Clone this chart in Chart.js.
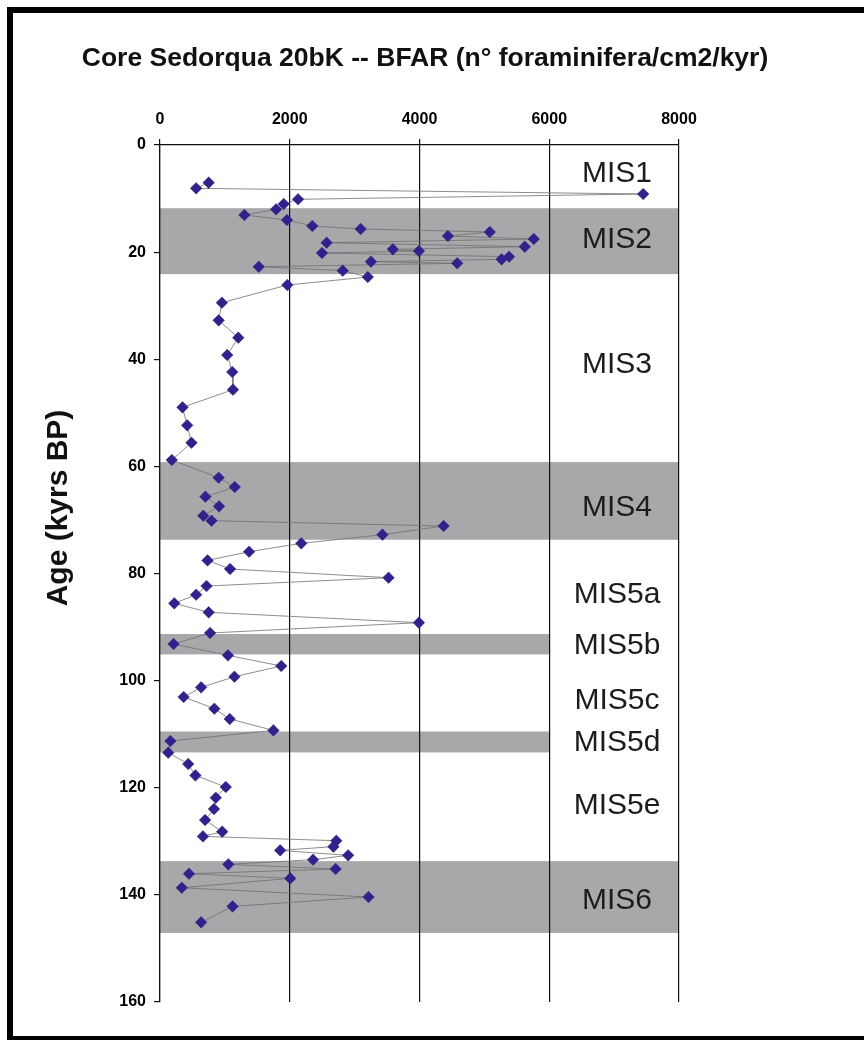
<!DOCTYPE html>
<html>
<head>
<meta charset="utf-8">
<script src="https://cdn.jsdelivr.net/npm/chart.js@4/dist/chart.umd.min.js"></script>
<style>
  html, body { margin: 0; padding: 0; background: #fff; }
  #wrap { width: 864px; height: 1040px; position: relative; }
</style>
</head>
<body>
<div id="wrap"><canvas id="c" width="864" height="1040"></canvas></div>
<script>
// ---- Data ----
const chartTitle = "Core Sedorqua 20bK -- BFAR (n\u00B0 foraminifera/cm2/kyr)";
const yAxisTitle = "Age (kyrs BP)";
const ages = [
  7.03, 8.09, 9.15, 10.14, 11.02, 12.01, 13.07, 14.0, 15.12, 15.68,
  16.24, 16.99, 17.55, 18.24, 18.98, 19.48, 19.79, 20.16, 20.85, 21.35,
  21.78, 22.09, 22.72, 23.46, 24.65, 26.14, 29.44, 32.74, 35.97, 39.21,
  42.38, 45.68, 48.98, 52.34, 55.58, 58.81, 62.11, 63.85, 65.66, 67.46,
  69.21, 70.14, 71.14, 72.75, 74.37, 75.93, 77.55, 79.16, 80.78, 82.34,
  83.96, 85.57, 87.25, 89.18, 91.11, 93.17, 95.28, 97.27, 99.27, 101.26,
  103.06, 105.24, 107.17, 109.29, 111.28, 113.45, 115.57, 117.69, 119.87, 121.86,
  123.97, 126.03, 128.2, 129.08, 129.89, 131.0, 131.69, 132.62, 133.43, 134.3,
  135.18, 136.05, 136.92, 138.66, 140.4, 142.15, 145.13
];
const bfar = [
  750, 557, 7448, 2128, 1907, 1790, 1301, 1957, 2348, 3093,
  5083, 4438, 5761, 2569, 5623, 3589, 3991, 2497, 5380, 5265,
  3252, 4581, 1522, 2817, 3203, 1963, 954, 904, 1207, 1036,
  1114, 1125, 347, 419, 485, 182, 904, 1152, 700, 910,
  667, 794, 4372, 3429, 2178, 1373, 733, 1080, 3523, 717,
  557, 220, 750, 3991, 772, 209, 1047, 1869, 1147, 634,
  364, 838, 1075, 1748, 160, 127, 435, 546, 1014, 860,
  832, 695, 959, 662, 2718, 2674, 1852, 2900, 2359, 1053,
  2707, 447, 2007, 336, 3214, 1119, 634
];
// Marine isotope stage shaded bands (age limits, and BFAR extent of the band)
const bandTop    = [11.8, 59.2, 91.3, 109.5, 133.7];
const bandBottom = [24.1, 73.7, 95.1, 113.4, 147.1];
const bandXMax   = [8000, 8000, 6000, 6000, 8000];
// MIS labels (text and age of label centre)
const misNames = ["MIS1", "MIS2", "MIS3", "MIS4", "MIS5a", "MIS5b", "MIS5c", "MIS5d", "MIS5e", "MIS6"];
const misAges  = [4.85, 17.3, 40.6, 67.3, 83.5, 93.0, 103.2, 111.1, 122.8, 140.6];
const misX = 7045;
// Axis ticks
const xTicks = [0, 2000, 4000, 6000, 8000];
const yTicks = [0, 20, 40, 60, 80, 100, 120, 140, 160];

// ---- Chart ----
const FONT = "'Liberation Sans', Arial, Helvetica, sans-serif";
const points = ages.map((a, i) => ({ x: bfar[i], y: a }));

const decorPlugin = {
  id: 'decor',
  beforeDraw(chart) {
    const ctx = chart.ctx, xs = chart.scales.x, ys = chart.scales.y;
    ctx.save();
    ctx.fillStyle = '#ffffff';
    ctx.fillRect(0, 0, chart.width, chart.height);
    ctx.fillStyle = '#a6a8aa';
    for (let i = 0; i < bandTop.length; i++) {
      const x0 = xs.getPixelForValue(0), x1 = xs.getPixelForValue(bandXMax[i]);
      const y0 = ys.getPixelForValue(bandTop[i]), y1 = ys.getPixelForValue(bandBottom[i]);
      ctx.fillRect(x0, y0, x1 - x0, y1 - y0);
    }
    ctx.restore();
  },
  afterDraw(chart) {
    const ctx = chart.ctx, xs = chart.scales.x, ys = chart.scales.y;
    ctx.save();
    // MIS labels
    ctx.fillStyle = '#1c1c1c';
    ctx.font = "30px " + FONT;
    ctx.textAlign = 'center';
    ctx.textBaseline = 'alphabetic';
    for (let i = 0; i < misNames.length; i++) {
      ctx.fillText(misNames[i], xs.getPixelForValue(misX), ys.getPixelForValue(misAges[i]) + 10.8);
    }
    // Title
    ctx.fillStyle = '#111';
    ctx.font = "bold 26.5px " + FONT;
    ctx.fillText(chartTitle, 425, 66);
    // Y-axis title
    ctx.save();
    ctx.translate(66.5, 508);
    ctx.rotate(-Math.PI / 2);
    ctx.font = "bold 30px " + FONT;
    ctx.fillText(yAxisTitle, 0, 0);
    ctx.restore();
    // Frame
    ctx.fillStyle = '#000';
    ctx.fillRect(7, 7, 6, 1033);
    ctx.fillRect(7, 7, 857, 6);
    ctx.fillRect(7, 1036, 857, 4);
    ctx.restore();
  }
};

new Chart(document.getElementById('c'), {
  type: 'scatter',
  data: {
    datasets: [{
      data: points,
      showLine: true,
      borderColor: '#707070',
      borderWidth: 0.8,
      pointStyle: 'rectRot',
      pointRadius: 5.8,
      pointHoverRadius: 5.8,
      pointBackgroundColor: '#30228a',
      pointBorderColor: '#30228a',
      pointBorderWidth: 0.5,
      tension: 0
    }]
  },
  options: {
    responsive: false,
    devicePixelRatio: 1,
    animation: false,
    events: [],
    layout: { padding: { top: 0, left: 0, right: 185, bottom: 38 } },
    plugins: { legend: { display: false }, tooltip: { enabled: false }, title: { display: false } },
    scales: {
      x: {
        type: 'linear',
        position: 'top',
        min: 0, max: 8000,
        afterFit(s) { s.height = 145; },
        afterBuildTicks(s) { s.ticks = xTicks.map(v => ({ value: v })); },
        ticks: {
          color: '#000',
          padding: 10,
          maxRotation: 0,
          callback: v => String(v),
          font: { family: FONT, size: 16, weight: 'bold' }
        },
        grid: { color: '#111', lineWidth: 1.2, tickLength: 6, drawTicks: true, drawOnChartArea: true },
        border: { display: true, color: '#111', width: 1.2 }
      },
      y: {
        type: 'linear',
        reverse: true,
        min: 0, max: 160,
        afterFit(s) { s.width = 160; },
        afterBuildTicks(s) { s.ticks = yTicks.map(v => ({ value: v })); },
        ticks: {
          color: '#000',
          padding: 8,
          callback: v => String(v),
          font: { family: FONT, size: 16, weight: 'bold' }
        },
        grid: { color: '#111', lineWidth: 1.2, tickLength: 6, drawTicks: true, drawOnChartArea: false },
        border: { display: true, color: '#111', width: 1.2 }
      }
    }
  },
  plugins: [decorPlugin]
});
</script>
</body>
</html>
